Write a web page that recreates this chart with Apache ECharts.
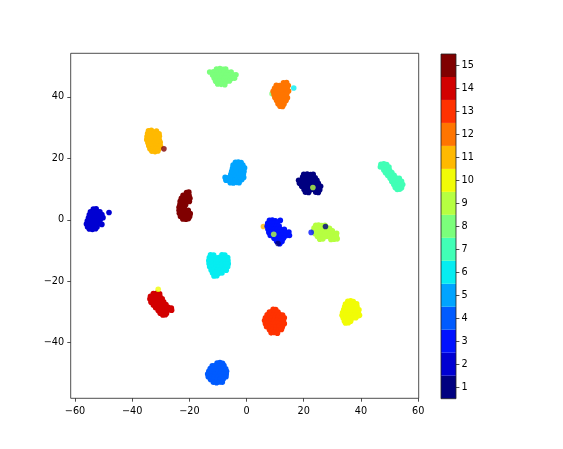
<!DOCTYPE html>
<html>
<head>
<meta charset="utf-8">
<script src="https://cdn.jsdelivr.net/npm/echarts@6/dist/echarts.min.js"></script>
<style>html,body{margin:0;padding:0;background:#fff;}#c{width:563px;height:449px;}</style>
</head>
<body>
<div id="c"></div>
<script>
// ---- data (t-SNE coordinates) ----
const levels = ['1','2','3','4','5','6','7','8','9','10','11','12','13','14','15'];
const xTicks = [-60, -40, -20, 0, 20, 40, 60];
const yTicks = [-40, -20, 0, 20, 40];

const cluster1 = [
 [20.0,14.8],[21.2,14.9],[22.4,14.7],[23.3,14.8],
 [19.6,13.9],[20.8,13.8],[21.9,14.0],[23.0,13.9],[24.0,13.7],
 [18.2,12.9],[19.3,13.0],[20.4,12.8],[21.5,12.9],[22.6,13.0],[23.7,12.8],[24.6,12.9],
 [18.5,11.9],[19.6,12.0],[20.7,11.8],[21.8,11.9],[22.9,12.0],[24.0,11.8],[25.1,11.9],
 [19.3,10.9],[20.4,11.0],[21.5,10.8],[22.6,10.9],[23.7,11.0],[24.8,10.8],[25.9,10.9],
 [20.1,9.9],[21.2,10.0],[22.3,9.8],[23.4,9.9],[24.5,10.0],[25.6,9.8],
 [20.6,9.0],[21.7,8.9],[24.2,9.0],[25.1,8.9]
];
const cluster2 = [
 [-53.6,3.5],[-52.6,3.6],
 [-54.6,2.6],[-53.5,2.5],[-52.4,2.7],[-51.3,2.6],
 [-55.0,1.6],[-53.9,1.7],[-52.8,1.5],[-51.7,1.6],[-50.6,1.7],
 [-55.3,0.6],[-54.2,0.5],[-53.1,0.7],[-52.0,0.6],[-50.9,0.5],[-50.2,0.7],
 [-55.7,-0.4],[-54.6,-0.3],[-53.5,-0.5],[-52.4,-0.4],[-51.3,-0.3],
 [-56.0,-1.4],[-54.9,-1.3],[-53.8,-1.5],[-52.7,-1.4],[-51.6,-1.3],[-50.6,-1.5],
 [-55.6,-2.3],[-54.5,-2.2],[-53.4,-2.4],[-52.3,-2.3],
 [-55.0,-3.0],[-53.9,-3.1],[-52.8,-2.9],
 [-48.1,2.4]
];
const cluster3 = [
 [8.0,-0.2],[9.0,-0.1],[10.1,-0.3],[11.8,-0.2],
 [7.4,-1.1],[8.5,-1.0],[9.6,-1.2],[10.7,-1.1],
 [7.2,-2.1],[8.3,-2.0],[9.4,-2.2],[10.5,-2.1],[11.4,-2.0],
 [7.5,-3.1],[8.6,-3.0],[9.7,-3.2],[10.8,-3.1],[11.8,-3.0],[13.2,-3.1],
 [7.8,-4.1],[8.9,-4.0],[10.0,-4.2],[11.1,-4.1],[12.2,-4.0],[13.6,-4.1],[14.8,-4.0],
 [8.3,-5.1],[9.4,-5.0],[10.5,-5.2],[11.6,-5.1],[12.7,-5.0],[13.7,-5.2],[15.0,-5.1],
 [9.6,-6.0],[10.7,-6.1],[11.8,-5.9],[12.9,-6.0],
 [10.5,-7.0],[11.6,-6.9],[12.4,-7.1],
 [11.6,-7.8]
];
const cluster4 = [
 [-10.3,-46.6],[-9.3,-46.5],[-8.4,-46.7],
 [-12.0,-47.5],[-11.0,-47.4],[-9.9,-47.6],[-8.8,-47.5],[-7.9,-47.4],
 [-12.7,-48.4],[-11.6,-48.3],[-10.5,-48.5],[-9.4,-48.4],[-8.3,-48.3],[-7.3,-48.5],
 [-13.2,-49.3],[-12.1,-49.2],[-11.0,-49.4],[-9.9,-49.3],[-8.8,-49.2],[-7.7,-49.4],[-7.0,-49.3],
 [-13.6,-50.2],[-12.5,-50.1],[-11.4,-50.3],[-10.3,-50.2],[-9.2,-50.1],[-8.1,-50.3],[-7.1,-50.2],
 [-13.4,-51.1],[-12.3,-51.0],[-11.2,-51.2],[-10.1,-51.1],[-9.0,-51.0],[-7.9,-51.2],[-7.2,-51.1],
 [-12.6,-52.0],[-11.5,-51.9],[-10.4,-52.1],[-9.3,-52.0],[-8.2,-51.9],
 [-11.6,-52.9],[-10.5,-53.0],[-9.5,-52.8],[-8.5,-52.9]
];
const cluster5 = [
 [-3.9,18.7],[-2.9,18.8],[-1.9,18.6],
 [-4.7,17.8],[-3.6,17.7],[-2.5,17.9],[-1.3,17.8],
 [-4.9,16.8],[-3.8,16.9],[-2.7,16.7],[-1.6,16.8],[-0.7,16.9],
 [-5.2,15.8],[-4.1,15.7],[-3.0,15.9],[-1.9,15.8],[-0.9,15.7],
 [-5.5,14.8],[-4.4,14.9],[-3.3,14.7],[-2.2,14.8],[-1.1,14.9],
 [-7.5,13.8],[-6.4,13.7],[-5.3,13.9],[-4.2,13.8],[-3.1,13.7],[-2.0,13.9],[-1.0,13.8],
 [-7.2,12.9],[-6.1,12.8],[-5.0,13.0],[-3.9,12.9],[-2.8,12.8],[-1.7,13.0],
 [-5.7,12.1],[-4.6,12.0],[-3.5,12.2],[-2.6,12.1]
];
const cluster6 = [
 [-12.6,-11.4],[-11.5,-11.5],[-8.6,-11.4],[-7.6,-11.5],
 [-13.0,-12.3],[-11.9,-12.2],[-10.8,-12.4],[-9.7,-12.3],[-8.6,-12.2],[-7.5,-12.4],[-6.6,-12.3],
 [-13.2,-13.3],[-12.1,-13.2],[-11.0,-13.4],[-9.9,-13.3],[-8.8,-13.2],[-7.7,-13.4],[-6.5,-13.3],
 [-13.1,-14.3],[-12.0,-14.2],[-10.9,-14.4],[-9.8,-14.3],[-8.7,-14.2],[-7.6,-14.4],[-6.4,-14.3],
 [-12.9,-15.3],[-11.8,-15.2],[-10.7,-15.4],[-9.6,-15.3],[-8.5,-15.2],[-7.4,-15.4],[-6.6,-15.3],
 [-12.4,-16.3],[-11.3,-16.2],[-10.2,-16.4],[-9.1,-16.3],[-8.0,-16.2],[-7.1,-16.4],
 [-11.9,-17.3],[-10.8,-17.2],[-9.7,-17.4],[-8.6,-17.3],
 [-11.4,-18.3],[-10.4,-18.2]
];
const cluster7 = [
 [47.0,18.1],[48.0,18.2],[49.0,18.0],
 [46.8,17.2],[47.9,17.1],[49.0,17.3],[49.8,17.2],
 [48.0,16.2],[49.1,16.3],[50.0,16.1],
 [48.6,15.3],[49.7,15.2],[50.8,15.4],
 [49.4,14.4],[50.5,14.3],[51.6,14.5],
 [50.2,13.5],[51.3,13.4],[52.4,13.6],[53.4,13.5],
 [50.8,12.5],[51.9,12.6],[53.0,12.4],[54.2,12.5],
 [51.5,11.5],[52.6,11.4],[53.7,11.6],[54.6,11.5],
 [52.0,10.5],[53.1,10.6],[54.2,10.4],
 [52.7,9.9],[53.6,10.0]
];
const cluster8 = [
 [-10.5,49.1],[-9.3,49.2],[-8.2,49.0],[-7.3,49.1],
 [-12.9,48.1],[-11.6,48.2],[-10.4,48.0],[-9.0,48.1],[-7.8,48.2],[-6.5,48.0],[-5.4,48.1],
 [-11.9,47.1],[-10.7,47.2],[-9.6,47.0],[-8.4,47.1],[-7.1,47.2],[-5.9,47.0],[-4.6,47.1],[-3.7,47.2],
 [-11.3,46.1],[-10.2,46.2],[-9.0,46.0],[-7.7,46.1],[-6.6,46.2],[-5.3,46.0],[-4.2,46.1],
 [-10.8,45.1],[-9.5,45.2],[-8.3,45.0],[-7.1,45.1],[-6.0,45.2],
 [-10.1,44.2],[-8.9,44.1],[-7.6,44.0]
];
const cluster9 = [
 [24.2,-1.8],[25.2,-1.7],[26.3,-1.9],[27.4,-1.8],
 [23.6,-2.7],[24.7,-2.6],[25.8,-2.8],[26.9,-2.7],[28.0,-2.6],[29.0,-2.8],
 [23.5,-3.6],[24.6,-3.5],[25.7,-3.7],[26.8,-3.6],[27.9,-3.5],[29.0,-3.7],[30.0,-3.6],
 [24.0,-4.5],[25.1,-4.4],[26.2,-4.6],[27.3,-4.5],[28.4,-4.4],[29.5,-4.6],[30.6,-4.5],[31.5,-4.4],
 [24.8,-5.4],[25.9,-5.3],[27.0,-5.5],[28.1,-5.4],[29.2,-5.3],[30.3,-5.5],[31.4,-5.4],
 [25.6,-6.3],[26.7,-6.2],[29.5,-6.4],[30.6,-6.3],[31.7,-6.2]
];
const cluster10 = [
 [35.4,-26.5],[36.4,-26.4],[37.3,-26.6],
 [34.6,-27.4],[35.7,-27.3],[36.8,-27.5],[37.8,-27.4],[38.5,-27.3],
 [34.3,-28.3],[35.4,-28.2],[36.5,-28.4],[37.6,-28.3],[38.6,-28.2],
 [34.0,-29.2],[35.1,-29.1],[36.2,-29.3],[37.3,-29.2],[38.4,-29.1],[39.3,-29.3],
 [33.6,-30.2],[34.7,-30.1],[35.8,-30.3],[36.9,-30.2],[38.0,-30.1],[39.1,-30.3],
 [33.4,-31.1],[34.5,-31.0],[35.6,-31.2],[36.7,-31.1],[37.8,-31.0],[38.9,-31.2],[39.5,-31.1],
 [33.8,-32.0],[34.9,-31.9],[36.0,-32.1],[37.1,-32.0],[38.2,-31.9],
 [34.2,-32.9],[35.3,-32.8],[36.4,-33.0],
 [34.6,-33.6],[35.6,-33.5]
];
const cluster11 = [
 [-34.3,29.0],[-33.3,29.1],[-31.5,28.9],
 [-34.6,28.1],[-33.5,28.0],[-32.4,28.2],[-31.3,28.1],[-30.6,28.0],
 [-34.8,27.1],[-33.7,27.2],[-32.6,27.0],[-31.5,27.1],[-30.5,27.2],
 [-34.9,26.1],[-33.8,26.0],[-32.7,26.2],[-31.6,26.1],[-30.5,26.0],
 [-34.5,25.1],[-33.4,25.2],[-32.3,25.0],[-31.2,25.1],[-30.2,25.2],
 [-34.2,24.1],[-33.1,24.0],[-32.0,24.2],[-30.9,24.1],[-30.1,24.0],
 [-33.8,23.1],[-32.7,23.2],[-31.6,23.0],[-30.6,23.1],
 [-33.1,22.3],[-32.0,22.2],[-31.0,22.4]
];
const cluster12 = [
 [12.9,44.6],[14.0,44.7],
 [10.4,43.8],[11.5,43.7],[12.6,43.9],[13.7,43.8],[14.6,43.7],
 [9.8,42.8],[10.9,42.9],[12.0,42.7],[13.1,42.8],[14.2,42.9],
 [9.3,41.8],[10.4,41.7],[11.5,41.9],[12.6,41.8],[13.7,41.7],[14.7,41.9],
 [9.6,40.8],[10.7,40.9],[11.8,40.7],[12.9,40.8],[14.0,40.9],
 [9.9,39.8],[11.0,39.7],[12.1,39.9],[13.2,39.8],[14.3,39.7],
 [10.5,38.8],[11.6,38.9],[12.7,38.7],[13.8,38.8],
 [11.0,37.8],[12.1,37.9],[13.1,37.7],
 [11.7,37.0],[12.6,36.9]
];
const cluster13 = [
 [9.3,-29.1],[10.2,-29.2],
 [8.0,-30.0],[9.0,-29.9],[10.1,-30.1],[11.0,-30.0],
 [7.2,-30.9],[8.3,-30.8],[9.4,-31.0],[10.5,-30.9],[11.6,-30.8],[12.6,-31.0],
 [6.6,-31.9],[7.7,-31.8],[8.8,-32.0],[9.9,-31.9],[11.0,-31.8],[12.1,-32.0],[13.2,-31.9],
 [6.3,-32.8],[7.4,-32.7],[8.5,-32.9],[9.6,-32.8],[10.7,-32.7],[11.8,-32.9],[12.9,-32.8],
 [6.6,-33.8],[7.7,-33.7],[8.8,-33.9],[9.9,-33.8],[11.0,-33.7],[12.1,-33.9],[13.2,-33.8],
 [7.0,-34.8],[8.1,-34.7],[9.2,-34.9],[10.3,-34.8],[11.4,-34.7],[12.5,-34.9],
 [8.0,-35.8],[9.1,-35.7],[10.2,-35.9],[11.3,-35.8],[12.2,-35.7],
 [8.6,-36.8],[9.7,-36.7],[10.8,-36.9]
];
const cluster14 = [
 [-32.6,-24.0],[-31.5,-23.9],[-30.4,-24.1],
 [-33.6,-24.9],[-32.5,-24.8],[-31.4,-25.0],[-30.3,-24.9],
 [-33.8,-25.8],[-32.7,-25.7],[-31.6,-25.9],[-30.5,-25.8],[-29.5,-25.7],
 [-33.4,-26.8],[-32.3,-26.7],[-31.2,-26.9],[-30.1,-26.8],[-29.0,-26.7],
 [-32.6,-27.7],[-31.5,-27.6],[-30.4,-27.8],[-29.3,-27.7],[-28.2,-27.6],
 [-31.8,-28.6],[-30.7,-28.5],[-29.6,-28.7],[-28.5,-28.6],[-27.4,-28.5],[-26.3,-28.7],
 [-30.9,-29.5],[-29.8,-29.4],[-28.7,-29.6],[-27.6,-29.5],[-26.2,-29.4],
 [-30.2,-30.4],[-29.1,-30.3],[-28.0,-30.5],
 [-29.3,-31.0],[-28.4,-30.9]
];
const cluster15 = [
 [-21.0,8.9],[-20.2,9.0],
 [-22.2,8.0],[-21.2,8.1],[-20.1,7.9],
 [-22.8,7.0],[-21.7,7.1],[-20.6,6.9],[-19.8,7.0],
 [-23.2,6.0],[-22.1,6.1],[-21.0,5.9],[-20.0,6.0],
 [-23.3,5.0],[-22.3,5.1],[-21.3,4.9],
 [-23.6,4.1],[-22.6,4.0],[-21.8,4.2],
 [-23.6,3.1],[-22.6,3.0],[-21.5,3.2],[-20.4,3.1],
 [-23.5,2.1],[-22.4,2.0],[-21.3,2.2],[-20.2,2.1],[-19.7,2.0],
 [-23.1,1.1],[-22.0,1.0],[-20.9,1.2],[-19.9,1.1],
 [-22.3,0.3],[-21.2,0.2],[-20.3,0.4]
];
// stray points: [x, y, level]
const straysBehind = [
 [8.9, 41.0, 8],
 [5.9, -2.2, 11]
];
const straysFront = [
 [16.5, 42.9, 6],
 [-28.9, 23.1, 15],
 [23.2, 10.5, 9],
 [9.5, -4.7, 9],
 [11.0, -7.7, 1],
 [22.6, -4.1, 3],
 [27.6, -2.2, 1],
 [-30.9, -22.6, 10]
];

// ---- style ----
const jet15 = ['#000080','#0000d2','#0012ff','#005bff','#00a4ff','#06edf1','#41ffb6','#7bff7b',
               '#b6ff41','#f1fc06','#ffb900','#ff7500','#ff3200','#d20000','#800000'];
const clusters = [cluster1,cluster2,cluster3,cluster4,cluster5,cluster6,cluster7,cluster8,
                  cluster9,cluster10,cluster11,cluster12,cluster13,cluster14,cluster15];
const FONT = 'DejaVu Sans';
const SYM = 5.6;
const minus = v => String(v).replace('-', '\u2212');

const strayData = arr => arr.map(p => ({value: [p[0], p[1]], itemStyle: {color: jet15[p[2] - 1]}}));

const series = [];
series.push({type: 'scatter', xAxisIndex: 0, yAxisIndex: 0, symbolSize: SYM, data: strayData(straysBehind), silent: true});
clusters.forEach((c, i) => {
  series.push({type: 'scatter', xAxisIndex: 0, yAxisIndex: 0, symbolSize: SYM, data: c,
               itemStyle: {color: jet15[i], opacity: 1}, silent: true});
});
series.push({type: 'scatter', xAxisIndex: 0, yAxisIndex: 0, symbolSize: SYM, data: strayData(straysFront), silent: true});
series.push({type: 'bar', xAxisIndex: 1, yAxisIndex: 1, barCategoryGap: '0%', barWidth: '100%',
             data: levels.map((l, i) => ({value: 1, itemStyle: {color: jet15[i]}})), silent: true});

const axisLabelStyle = {fontFamily: FONT, fontSize: 9.7, color: '#000'};
const chart = echarts.init(document.getElementById('c'), null, {renderer: 'canvas'});
chart.setOption({
  animation: false,
  backgroundColor: '#fff',
  grid: [
    {left: 70.7, top: 53.3, width: 348, height: 345, show: true, borderColor: '#222', borderWidth: 0.8,
     backgroundColor: 'transparent', z: 10},
    {left: 441, top: 54, width: 15, height: 344.7, show: true, borderColor: '#222', borderWidth: 0.8,
     backgroundColor: 'transparent', z: 10}
  ],
  xAxis: [
    {type: 'value', gridIndex: 0, min: -61.5, max: 60.2, position: 'bottom', splitLine: {show: false},
     axisLine: {show: false, onZero: false},
     axisTick: {show: true, length: 3.4, customValues: xTicks, lineStyle: {color: '#222', width: 0.8}},
     axisLabel: Object.assign({customValues: xTicks, margin: 8.5, formatter: minus}, axisLabelStyle)},
    {type: 'value', gridIndex: 1, min: 0, max: 1, show: false}
  ],
  yAxis: [
    {type: 'value', gridIndex: 0, min: -58.1, max: 54.2, position: 'left', splitLine: {show: false},
     axisLine: {show: false, onZero: false},
     axisTick: {show: true, length: 3.4, customValues: yTicks, lineStyle: {color: '#222', width: 0.8}},
     axisLabel: Object.assign({customValues: yTicks, margin: 6.5, formatter: minus}, axisLabelStyle)},
    {type: 'category', gridIndex: 1, position: 'right', data: levels, boundaryGap: true,
     axisLine: {show: false, onZero: false}, splitLine: {show: false},
     axisTick: {show: true, alignWithLabel: true, length: 3.4, lineStyle: {color: '#222', width: 0.8}},
     axisLabel: Object.assign({margin: 5.5, interval: 0}, axisLabelStyle)}
  ],
  series: series
});
</script>
</body>
</html>
